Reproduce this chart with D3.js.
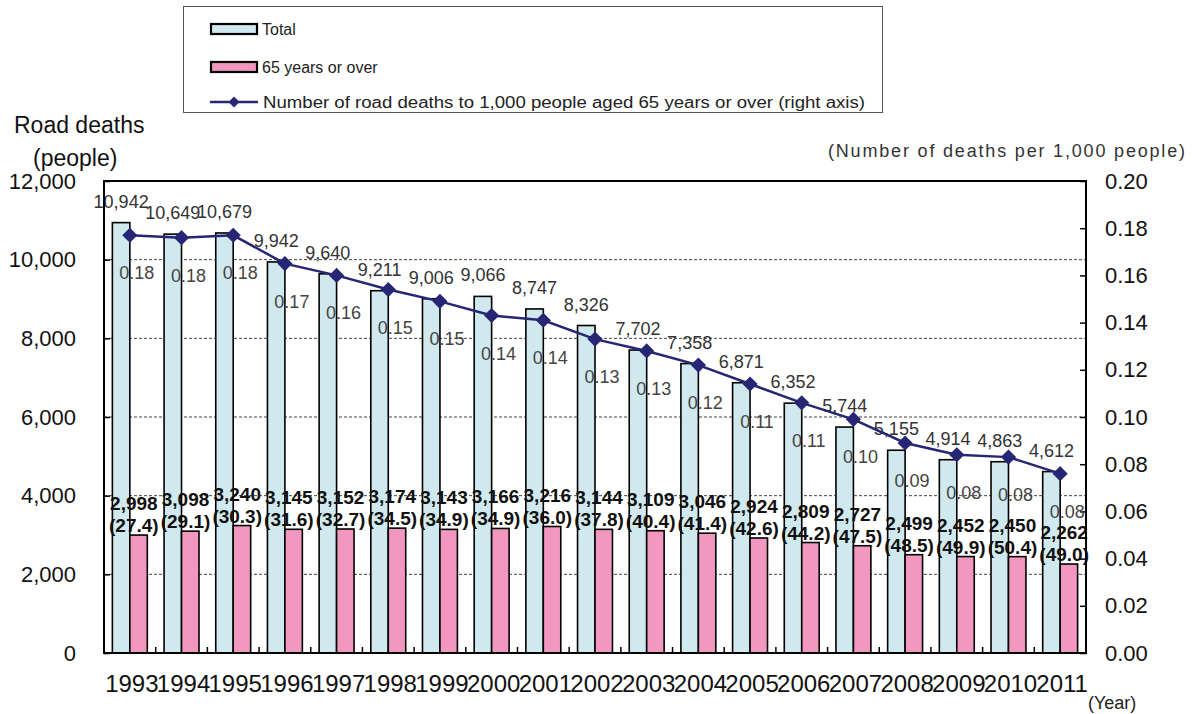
<!doctype html>
<html>
<head>
<meta charset="utf-8">
<script src="https://d3js.org/d3.v7.min.js"></script>
<style>
  body { margin: 0; background: #fff; }
  svg { font-family: Arial, "Liberation Sans", sans-serif; }
  .axis text { fill: #111; }
  .axis .domain { display: none; }
  .axis line { stroke: #000; stroke-width: 1.5; }
</style>
</head>
<body>
<svg width="1198" height="714"></svg>
<script>
  // data
  var years = ["1993", "1994", "1995", "1996", "1997", "1998", "1999", "2000", "2001", "2002",
               "2003", "2004", "2005", "2006", "2007", "2008", "2009", "2010", "2011"];
  var totalDeaths = [10942, 10649, 10679, 9942, 9640, 9211, 9006, 9066, 8747, 8326,
                     7702, 7358, 6871, 6352, 5744, 5155, 4914, 4863, 4612];
  var elderlyDeaths = [2998, 3098, 3240, 3145, 3152, 3174, 3143, 3166, 3216, 3144,
                       3109, 3046, 2924, 2809, 2727, 2499, 2452, 2450, 2262];
  var elderlyShare = [27.4, 29.1, 30.3, 31.6, 32.7, 34.5, 34.9, 34.9, 36.0, 37.8,
                      40.4, 41.4, 42.6, 44.2, 47.5, 48.5, 49.9, 50.4, 49.0];
  var ratePer1000 = [0.177, 0.176, 0.177, 0.165, 0.160, 0.154, 0.149, 0.143, 0.141, 0.133,
                     0.128, 0.122, 0.114, 0.106, 0.099, 0.089, 0.084, 0.083, 0.076];
  var leftTicks = [0, 2000, 4000, 6000, 8000, 10000, 12000];
  var rightTicks = [0, 0.02, 0.04, 0.06, 0.08, 0.10, 0.12, 0.14, 0.16, 0.18, 0.20];

  var blueFill = "#cfe9ef", pinkFill = "#f297c0", navy = "#262674";

  var svg = d3.select("svg");
  var plot = { left: 104, right: 1086, top: 181, bottom: 653 };

  var x = d3.scaleBand().domain(years).range([plot.left, plot.right]);
  var xSub = d3.scaleBand().domain(["total", "elderly"])
    .range([0, x.bandwidth()]).paddingInner(0).paddingOuter(0.48);
  var yLeft = d3.scaleLinear().domain([0, 12000]).range([plot.bottom, plot.top]);
  var yRight = d3.scaleLinear().domain([0, 0.2]).range([plot.bottom, plot.top]);

  var rows = years.map(function (y, i) {
    return { year: y, total: totalDeaths[i], elderly: elderlyDeaths[i],
             share: elderlyShare[i], rate: ratePer1000[i] };
  });

  // dashed gridlines
  svg.append("g").selectAll("line")
    .data(leftTicks.slice(1, -1))
    .enter().append("line")
    .attr("x1", plot.left).attr("x2", plot.right)
    .attr("y1", function (d) { return yLeft(d); })
    .attr("y2", function (d) { return yLeft(d); })
    .attr("stroke", "#444").attr("stroke-width", 1).attr("stroke-dasharray", "3,2");

  // bars
  var groups = svg.append("g").selectAll("g")
    .data(rows).enter().append("g")
    .attr("transform", function (d) { return "translate(" + x(d.year) + ",0)"; });

  groups.append("rect")
    .attr("x", xSub("total"))
    .attr("width", xSub.bandwidth())
    .attr("y", function (d) { return yLeft(d.total); })
    .attr("height", function (d) { return plot.bottom - yLeft(d.total); })
    .attr("fill", blueFill).attr("stroke", "#000").attr("stroke-width", 1.6);

  groups.append("rect")
    .attr("x", xSub("elderly"))
    .attr("width", xSub.bandwidth())
    .attr("y", function (d) { return yLeft(d.elderly); })
    .attr("height", function (d) { return plot.bottom - yLeft(d.elderly); })
    .attr("fill", pinkFill).attr("stroke", "#000").attr("stroke-width", 1.6);

  // frame
  svg.append("rect")
    .attr("x", plot.left).attr("y", plot.top)
    .attr("width", plot.right - plot.left).attr("height", plot.bottom - plot.top)
    .attr("fill", "none").attr("stroke", "#000").attr("stroke-width", 2);

  // category separators on x axis
  svg.append("g").selectAll("line")
    .data(years.slice(1))
    .enter().append("line")
    .attr("x1", function (d) { return x(d); }).attr("x2", function (d) { return x(d); })
    .attr("y1", plot.bottom).attr("y2", plot.bottom - 6)
    .attr("stroke", "#000").attr("stroke-width", 1.5);

  // axes
  svg.append("g").attr("class", "axis")
    .attr("transform", "translate(" + plot.left + ",0)")
    .call(d3.axisLeft(yLeft).tickValues(leftTicks).tickSize(-6).tickSizeOuter(0)
      .tickPadding(28).tickFormat(d3.format(",")))
    .selectAll("text").style("font-size", "22px");

  svg.append("g").attr("class", "axis")
    .attr("transform", "translate(" + plot.right + ",0)")
    .call(d3.axisRight(yRight).tickValues(rightTicks).tickSize(-6).tickSizeOuter(0)
      .tickPadding(19).tickFormat(d3.format(".2f")))
    .selectAll("text").style("font-size", "22px");

  svg.append("g").attr("class", "axis")
    .attr("transform", "translate(0," + plot.bottom + ")")
    .call(d3.axisBottom(x).tickSize(0).tickPadding(22))
    .selectAll("text").style("font-size", "24px")
    .attr("dx", 2);

  // total labels
  groups.append("text")
    .attr("x", xSub("total") + xSub.bandwidth() / 2)
    .attr("y", function (d) { return yLeft(d.total) - 15; })
    .attr("text-anchor", "middle")
    .attr("font-size", "18px").attr("fill", "#333")
    .text(function (d) { return d3.format(",")(d.total); });

  // 65+ labels (value and share)
  var eLab = groups.append("text")
    .attr("text-anchor", "middle")
    .attr("font-size", "19px").attr("font-weight", "bold").attr("fill", "#111");
  eLab.append("tspan")
    .attr("x", x.bandwidth() / 2 + 4)
    .attr("y", function (d) { return yLeft(d.elderly) - 25; })
    .text(function (d) { return d3.format(",")(d.elderly); });
  eLab.append("tspan")
    .attr("x", x.bandwidth() / 2 + 4)
    .attr("y", function (d) { return yLeft(d.elderly) - 3; })
    .text(function (d) { return "(" + d.share.toFixed(1) + ")"; });

  // rate line
  var cx = function (d) { return x(d.year) + x.bandwidth() / 2; };
  svg.append("path")
    .datum(rows)
    .attr("fill", "none").attr("stroke", navy).attr("stroke-width", 2.5)
    .attr("d", d3.line().x(cx).y(function (d) { return yRight(d.rate); }));

  svg.append("g").selectAll("path")
    .data(rows).enter().append("path")
    .attr("d", d3.symbol().type(d3.symbolSquare).size(115))
    .attr("transform", function (d) {
      return "translate(" + cx(d) + "," + yRight(d.rate) + ") rotate(45)";
    })
    .attr("fill", navy);

  // rate labels
  svg.append("g").selectAll("text")
    .data(rows).enter().append("text")
    .attr("x", function (d) { return cx(d) + 7; })
    .attr("y", function (d) { return yRight(d.rate) + 44; })
    .attr("text-anchor", "middle")
    .attr("font-size", "18px").attr("fill", "#444")
    .text(function (d) { return d.rate.toFixed(2); });

  // axis titles
  svg.append("text").attr("x", 14).attr("y", 133)
    .attr("font-size", "23px").attr("fill", "#111").text("Road deaths");
  svg.append("text").attr("x", 33).attr("y", 166)
    .attr("font-size", "23px").attr("fill", "#111").text("(people)");
  svg.append("text").attr("x", 828).attr("y", 157)
    .attr("font-size", "18px").attr("fill", "#333")
    .attr("textLength", 357).attr("lengthAdjust", "spacing")
    .text("(Number of deaths per 1,000 people)");
  svg.append("text").attr("x", 1088).attr("y", 709)
    .attr("font-size", "18px").attr("fill", "#222").text("(Year)");

  // legend
  var legend = svg.append("g");
  legend.append("rect")
    .attr("x", 183.5).attr("y", 6.5).attr("width", 699).attr("height", 106)
    .attr("fill", "#fff").attr("stroke", "#555").attr("stroke-width", 1);

  var legendItems = [
    { label: "Total", fill: blueFill, y: 29 },
    { label: "65 years or over", fill: pinkFill, y: 67 }
  ];
  legendItems.forEach(function (it) {
    legend.append("rect")
      .attr("x", 211).attr("y", it.y - 5).attr("width", 46).attr("height", 10)
      .attr("fill", it.fill).attr("stroke", "#000").attr("stroke-width", 2.2);
    legend.append("text")
      .attr("x", 262).attr("y", it.y + 6)
      .attr("font-size", "16px").attr("fill", "#222").text(it.label);
  });
  legend.append("line")
    .attr("x1", 210).attr("x2", 258).attr("y1", 102).attr("y2", 102)
    .attr("stroke", navy).attr("stroke-width", 2.5);
  legend.append("path")
    .attr("d", d3.symbol().type(d3.symbolSquare).size(60))
    .attr("transform", "translate(234,102) rotate(45)")
    .attr("fill", navy);
  legend.append("text")
    .attr("x", 263).attr("y", 108)
    .attr("font-size", "16px").attr("fill", "#222")
    .attr("textLength", 602).attr("lengthAdjust", "spacingAndGlyphs")
    .text("Number of road deaths to 1,000 people aged 65 years or over (right axis)");
</script>
</body>
</html>
